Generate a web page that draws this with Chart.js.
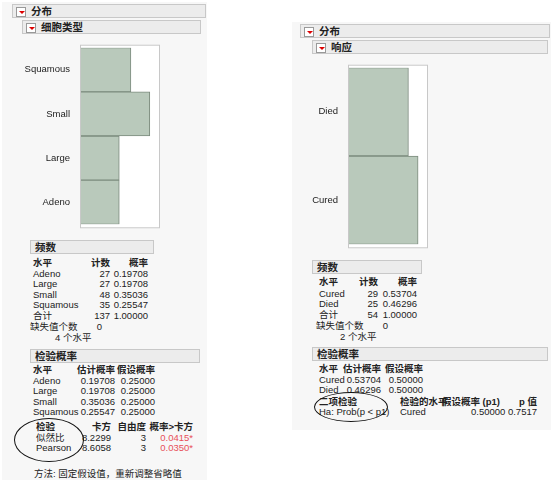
<!DOCTYPE html>
<html><head><meta charset="utf-8">
<script src="https://cdn.jsdelivr.net/npm/chart.js@4/dist/chart.umd.min.js"></script>
<style>
body{margin:0;background:#fff;font-family:"Liberation Sans","Noto Sans CJK SC",sans-serif;font-size:9.5px;color:#222}
#wrap{position:relative;width:553px;height:481px}
.t{position:absolute;white-space:nowrap;line-height:11px}
.hd{position:absolute;background:#ececec;border:1px solid #c8c8c8;font-weight:bold;font-size:10.5px;line-height:12px;padding-left:18px;box-sizing:border-box}
.hd.a::before{content:"";position:absolute;left:3px;top:2px;width:8px;height:8px;background:#fff;border:1px solid #999}
.hd.a::after{content:"";position:absolute;left:6px;top:6px;border-left:3px solid transparent;border-right:3px solid transparent;border-top:3px solid #d00}
.hd.b{padding-left:4px}
.pane{position:absolute;background:#f7f7f7}
.ell{position:absolute;border:1px solid #111;border-radius:50%}
canvas{position:absolute}
</style></head><body><div id="wrap">
<div class="pane" style="left:2px;top:2px;width:205px;height:478px"></div>
<div class="pane" style="left:292px;top:22px;width:259px;height:408px"></div>
<canvas id="c1" style="left:10px;top:40px;width:150px;height:192px"></canvas>
<canvas id="c2" style="left:290px;top:60px;width:138px;height:192px"></canvas>
</div>
<script>
// data
var cellTypes = ['Squamous', 'Small', 'Large', 'Adeno'];
var cellCounts = [35, 48, 27, 27];
var responses = ['Died', 'Cured'];
var responseCounts = [25, 29];

var wrap = document.getElementById('wrap');
function put(text, x, y, o) {
  o = o || {};
  var d = document.createElement('div');
  d.className = o.cls || 't';
  d.textContent = text;
  if (o.right) { d.style.right = (553 - x) + 'px'; } else d.style.left = x + 'px';
  d.style.top = y + 'px';
  if (o.w) { d.style.width = o.w + 'px'; d.style.height = (o.h || 14) + 'px'; }
  if (o.bold) d.style.fontWeight = 'bold';
  if (o.color) d.style.color = o.color;
  wrap.appendChild(d);
}
function ellipse(x, y, w, h) {
  var d = document.createElement('div');
  d.className = 'ell';
  d.style.cssText = 'left:' + x + 'px;top:' + y + 'px;width:' + w + 'px;height:' + h + 'px';
  wrap.appendChild(d);
}

// left panel
put('分布', 12, 4, {cls: 'hd a', w: 194});
put('细胞类型', 22, 20, {cls: 'hd a', w: 179});
put('频数', 30, 240, {cls: 'hd b', w: 124});
put('水平', 33, 257, {bold: true}); put('计数', 110, 257, {bold: true, right: true}); put('概率', 148, 257, {bold: true, right: true});
var freqRows = [['Adeno', '27', '0.19708'], ['Large', '27', '0.19708'], ['Small', '48', '0.35036'], ['Squamous', '35', '0.25547'], ['合计', '137', '1.00000']];
freqRows.forEach(function (r, i) {
  var y = 268 + i * 10.4;
  put(r[0], 33, y); put(r[1], 110, y, {right: true}); put(r[2], 148, y, {right: true});
});
put('缺失值个数', 30, 321); put('0', 102, 321, {right: true});
put('4  个水平', 55, 332);
put('检验概率', 30, 349, {cls: 'hd b', w: 170});
put('水平', 33, 364, {bold: true}); put('估计概率', 115, 364, {bold: true, right: true}); put('假设概率', 155, 364, {bold: true, right: true});
var probRows = [['Adeno', '0.19708'], ['Large', '0.19708'], ['Small', '0.35036'], ['Squamous', '0.25547']];
probRows.forEach(function (r, i) {
  var y = 375 + i * 10.4;
  put(r[0], 33, y); put(r[1], 115, y, {right: true}); put('0.25000', 155, y, {right: true});
});
put('检验', 36, 421, {bold: true}); put('卡方', 111, 421, {bold: true, right: true});
put('自由度', 146, 421, {bold: true, right: true}); put('概率>卡方', 193, 421, {bold: true, right: true});
put('似然比', 36, 432); put('8.2299', 111, 432, {right: true}); put('3', 146, 432, {right: true}); put('0.0415*', 193, 432, {right: true, color: '#e8505a'});
put('Pearson', 36, 442); put('8.6058', 111, 442, {right: true}); put('3', 146, 442, {right: true}); put('0.0350*', 193, 442, {right: true, color: '#e8505a'});
ellipse(14, 418, 68, 42);
put('方法: 固定假设值，重新调整省略值', 34, 468);

// right panel
put('分布', 300, 24, {cls: 'hd a', w: 250});
put('响应', 312, 40, {cls: 'hd a', w: 236});
put('频数', 312, 260, {cls: 'hd b', w: 110});
put('水平', 319, 276, {bold: true}); put('计数', 378, 276, {bold: true, right: true}); put('概率', 417, 276, {bold: true, right: true});
var rfRows = [['Cured', '29', '0.53704'], ['Died', '25', '0.46296'], ['合计', '54', '1.00000']];
rfRows.forEach(function (r, i) {
  var y = 288 + i * 10.4;
  put(r[0], 319, y); put(r[1], 378, y, {right: true}); put(r[2], 417, y, {right: true});
});
put('缺失值个数', 316, 320); put('0', 388, 320, {right: true});
put('2  个水平', 340, 331);
put('检验概率', 312, 347, {cls: 'hd b', w: 236});
put('水平', 319, 363, {bold: true}); put('估计概率', 381, 363, {bold: true, right: true}); put('假设概率', 423, 363, {bold: true, right: true});
put('Cured', 319, 374); put('0.53704', 381, 374, {right: true}); put('0.50000', 423, 374, {right: true});
put('Died', 319, 384); put('0.46296', 381, 384, {right: true}); put('0.50000', 423, 384, {right: true});
put('二项检验', 319, 396, {bold: true}); put('检验的水平', 400, 396, {bold: true});
put('假设概率 (p1)', 500, 396, {bold: true, right: true}); put('p 值', 537, 396, {bold: true, right: true});
put('Ha: Prob(p < p1)', 319, 406); put('Cured', 400, 406); put('0.50000 0.7517', 537, 406, {right: true});
ellipse(314, 392, 72, 28);

// charts
var boxPlugin = {
  id: 'box',
  beforeDraw: function (c) {
    var a = c.chartArea, x = c.ctx;
    x.save(); x.fillStyle = '#fff'; x.fillRect(a.left, a.top - 3, a.right - a.left, a.bottom - a.top + 7); x.restore();
  },
  afterDraw: function (c) {
    var a = c.chartArea, x = c.ctx;
    x.save(); x.strokeStyle = '#c8c8c8'; x.lineWidth = 1;
    x.strokeRect(a.left + 0.5, a.top - 2.5, a.right - a.left - 1, a.bottom - a.top + 6); x.restore();
  }
};
function bars(id, labels, values, max, labelW) {
  new Chart(document.getElementById(id), {
    type: 'bar',
    data: { labels: labels, datasets: [{ data: values, backgroundColor: '#b9c9bb', borderColor: '#7b8a7d', borderWidth: 1, barPercentage: 1, categoryPercentage: 1 }] },
    options: {
      indexAxis: 'y', responsive: false, animation: false,
      layout: { padding: { top: 3, bottom: 4 } },
      plugins: { legend: { display: false }, tooltip: { enabled: false } },
      scales: {
        x: { display: false, min: 0, max: max },
        y: { grid: { display: false }, border: { display: false },
             ticks: { color: '#222', font: { size: 9.5, family: 'Liberation Sans' }, padding: 2 },
             afterFit: function (s) { s.width = labelW; } }
      }
    },
    plugins: [boxPlugin]
  });
}
bars('c1', cellTypes, cellCounts, 55, 70);
bars('c2', responses, responseCounts, 33.1, 58);
</script></body></html>
